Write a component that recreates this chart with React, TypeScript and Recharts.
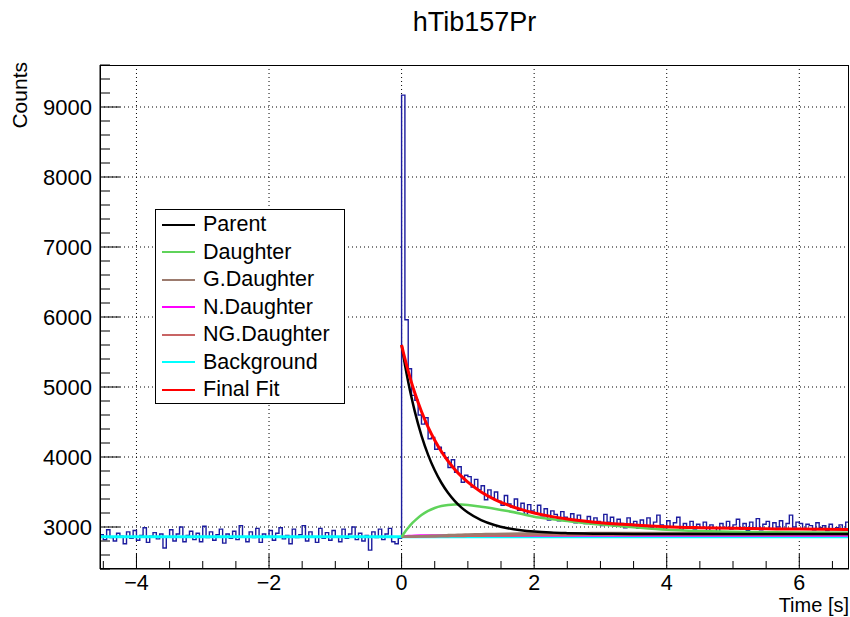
import { ComposedChart, Line, XAxis, YAxis, CartesianGrid, Legend } from 'recharts'

const FONT = '"Liberation Sans", Arial, Helvetica, sans-serif'
const W = 850
const H = 617
const PLOT_LEFT = 100
const PLOT_TOP = 65
const PLOT_RIGHT = 849
const PLOT_BOTTOM = 569

const X_DOMAIN = [-4.55, 6.75]
const Y_DOMAIN = [2400, 9600]
const X_TICKS = [-4.5, -4, -3.5, -3, -2.5, -2, -1.5, -1, -0.5, 0, 0.5, 1, 1.5, 2, 2.5, 3, 3.5, 4, 4.5, 5, 5.5, 6, 6.5]
const Y_TICKS = [2400, 2600, 2800, 3000, 3200, 3400, 3600, 3800, 4000, 4200, 4400, 4600, 4800, 5000, 5200, 5400, 5600, 5800, 6000, 6200, 6400, 6600, 6800, 7000, 7200, 7400, 7600, 7800, 8000, 8200, 8400, 8600, 8800, 9000, 9200, 9400, 9600]
const X_GRID = [-4, -2, 0, 2, 4, 6]
const Y_GRID = [3000, 4000, 5000, 6000, 7000, 8000, 9000]

// histogram: 0.05 s bins starting at -4.55 s
const HIST_START = -4.55
const BIN_W = 0.05
const HIST_NEG = [
  2890, 2820, 2960, 2850, 2800, 2910, 2870, 2760, 2930, 2840,
  2950, 2810, 2880, 2990, 2780, 2870, 2920, 2830, 2900, 2700,
  2860, 2960, 2800, 2900, 3000, 2790, 2880, 2940, 2820, 2910,
  2790, 3010, 2850, 2930, 2810, 2890, 2970, 2770, 2900, 2840,
  2940, 2820, 3020, 2860, 2790, 2930, 2850, 2980, 2780, 2900,
  2860, 2950, 2810, 2910, 2990, 2830, 2880, 2760, 2970, 2850,
  2890, 3020, 2800, 2930, 2860, 2780, 2980, 2840, 2920, 2810,
  2950, 2860, 2790, 2970, 2840, 2900, 3000, 2820, 2910, 2800,
  2880, 2670, 2930, 2850, 2970, 2820, 2900, 2980, 2790, 2760,
  2840,
]
const HIST_POS = [
  9170, 5960, 5260, 4880, 4810, 4600, 4470, 4560, 4260, 4280,
  4110, 4140, 4060, 3990, 3850, 3960, 3780, 3860, 3640, 3740,
  3720, 3570, 3680, 3530, 3590, 3390, 3530, 3420, 3500, 3370,
  3310, 3450, 3330, 3280, 3400, 3240, 3340, 3180, 3320, 3230,
  3200, 3310, 3160, 3260, 3100, 3230, 3180, 3090, 3220, 3140,
  3080, 3190, 3060, 3170, 3090, 3050, 3150, 3040, 3130, 3080,
  3020, 3180, 3070, 3140, 3010, 3110, 3050, 2990, 3130, 3040,
  3080, 2980, 3100, 3020, 3130, 2990, 3070, 3170, 3030, 2970,
  3090, 3000, 3060, 3140, 2960, 3050, 2990, 3080, 2970, 3040,
  2990, 3070, 2890, 3030, 2990, 2900, 3050, 2990, 3080, 2970,
  3030, 3110, 2970, 3050, 2950, 3070, 2990, 3120, 2960, 3040,
  3080, 2970, 3060, 3000, 3090, 2970, 3050, 3170, 3000, 3070,
  3050, 2970, 3040, 3020, 2960, 3060, 2990, 3020, 2950, 3040,
  2970, 2990, 3030, 2960, 3070,
]

// fit components, sampled along the decay
const CURVE_T = [0, 0.05, 0.1, 0.15, 0.2, 0.3, 0.4, 0.5, 0.6, 0.7, 0.8, 0.9, 1.0, 1.2, 1.4, 1.6, 1.8, 2.0, 2.25, 2.5, 2.75, 3.0, 3.5, 4.0, 4.5, 5.0, 5.5, 6.0, 6.75]
const PARENT = [5600, 5322, 5073, 4849, 4648, 4306, 4031, 3810, 3632, 3489, 3374, 3281, 3207, 3099, 3029, 2983, 2954, 2935, 2920, 2912, 2907, 2904, 2901, 2900, 2900, 2900, 2900, 2900, 2900]
const DAUGHTER = [2860, 2930, 2990, 3045, 3090, 3170, 3230, 3272, 3300, 3315, 3320, 3320, 3315, 3290, 3262, 3228, 3188, 3145, 3113, 3085, 3058, 3035, 2995, 2960, 2942, 2932, 2926, 2922, 2918]
const G_DAUGHTER = [2860, 2861, 2862, 2863, 2865, 2868, 2872, 2876, 2880, 2884, 2887, 2890, 2893, 2897, 2901, 2904, 2906, 2908, 2910, 2911, 2912, 2913, 2914, 2914, 2914, 2914, 2914, 2914, 2914]
const N_DAUGHTER = [2860, 2866, 2870, 2873, 2875, 2877, 2878, 2878, 2878, 2878, 2878, 2878, 2878, 2878, 2878, 2878, 2878, 2878, 2878, 2878, 2878, 2878, 2878, 2878, 2878, 2878, 2878, 2878, 2878]
const NG_DAUGHTER = [2860, 2861, 2861, 2862, 2862, 2864, 2865, 2866, 2868, 2869, 2871, 2872, 2874, 2876, 2878, 2880, 2882, 2885, 2886, 2887, 2889, 2890, 2891, 2893, 2893, 2894, 2894, 2895, 2895]
const FINAL_FIT = [5600, 5405, 5227, 5063, 4913, 4650, 4427, 4239, 4079, 3943, 3826, 3726, 3640, 3501, 3396, 3315, 3251, 3201, 3152, 3115, 3086, 3062, 3029, 3005, 2991, 2981, 2974, 2970, 2965]
const BG_T = [-4.55, 6.75]
const BACKGROUND = [2860, 2860]

const SERIES_NAMES = ['Parent', 'Daughter', 'G.Daughter', 'N.Daughter', 'NG.Daughter', 'Background', 'Final Fit']
const COLORS: Record<string, string> = {
  'Parent': '#000000',
  'Daughter': '#5fd35a',
  'G.Daughter': '#9c7b6e',
  'N.Daughter': '#ff00ff',
  'NG.Daughter': '#c86464',
  'Background': '#00ffff',
  'Final Fit': '#ff0000',
}

const histData = [...HIST_NEG, ...HIST_POS].map((v, i) => ({ t: Math.round((HIST_START + i * BIN_W) * 1000) / 1000, v }))
histData.push({ t: X_DOMAIN[1], v: HIST_POS[HIST_POS.length - 1] })

const toCurve = (vals: number[], ts: number[] = CURVE_T) => vals.map((v, i) => ({ t: ts[i], v }))

function fmtX(v: number) {
  return v < 0 ? `\u2212${Math.abs(v)}` : `${v}`
}

function XTick({ x, payload }: any) {
  const major = payload.value % 2 === 0
  return (
    <g>
      <line x1={x} x2={x} y1={PLOT_BOTTOM} y2={PLOT_BOTTOM - (major ? 15 : 8)} stroke="#000" />
      {major && (
        <text x={x} y={583} textAnchor="middle" dominantBaseline="central" fontFamily={FONT} fontSize={21.5} fill="#000">
          {fmtX(payload.value)}
        </text>
      )}
    </g>
  )
}

function YTick({ y, payload }: any) {
  const major = payload.value % 1000 === 0
  return (
    <g>
      <line x1={PLOT_LEFT} x2={PLOT_LEFT + (major ? 20 : 10)} y1={y} y2={y} stroke="#000" />
      {major && (
        <text x={PLOT_LEFT - 8} y={y} textAnchor="end" dominantBaseline="central" fontFamily={FONT} fontSize={22} fill="#000">
          {payload.value}
        </text>
      )}
    </g>
  )
}

function LegendBox() {
  return (
    <div style={{ width: 190, height: 195, border: '1px solid #000', background: '#fff', boxSizing: 'border-box', paddingTop: 1 }}>
      {SERIES_NAMES.map((name) => (
        <div key={name} style={{ height: 27.5, display: 'flex', alignItems: 'center' }}>
          <span style={{ display: 'inline-block', width: 33, height: 2, marginLeft: 6, background: COLORS[name] }} />
          <span style={{ marginLeft: 8, fontFamily: FONT, fontSize: 21.5, color: '#000', lineHeight: '27px' }}>{name}</span>
        </div>
      ))}
    </div>
  )
}

export default function App() {
  return (
    <div style={{ position: 'absolute', left: 0, top: 0, width: W, height: H, background: '#fff' }}>
      <div style={{ position: 'absolute', left: PLOT_LEFT, width: PLOT_RIGHT - PLOT_LEFT, top: 7, textAlign: 'center', fontFamily: FONT, fontSize: 27, lineHeight: '30px', color: '#000' }}>
        hTib157Pr
      </div>
      <ComposedChart width={W} height={H} margin={{ top: PLOT_TOP, right: W - PLOT_RIGHT, bottom: 0, left: 0 }}>
        <CartesianGrid stroke="#000" strokeDasharray="1 3" verticalValues={X_GRID} horizontalValues={Y_GRID} />
        <XAxis
          type="number"
          dataKey="t"
          domain={X_DOMAIN}
          allowDataOverflow
          ticks={X_TICKS}
          interval={0}
          height={H - PLOT_BOTTOM}
          tickLine={false}
          stroke="#000"
          tick={<XTick />}
          label={{
            content: () => (
              <text x={PLOT_RIGHT} y={605} textAnchor="end" dominantBaseline="central" fontFamily={FONT} fontSize={20} fill="#000">
                Time [s]
              </text>
            ),
          }}
        />
        <YAxis
          type="number"
          domain={Y_DOMAIN}
          allowDataOverflow
          ticks={Y_TICKS}
          interval={0}
          width={PLOT_LEFT}
          tickLine={false}
          stroke="#000"
          tick={<YTick />}
          label={{
            content: () => (
              <text x={19} y={62} transform="rotate(-90 19 62)" textAnchor="end" dominantBaseline="central" fontFamily={FONT} fontSize={21} fill="#000">
                Counts
              </text>
            ),
          }}
        />
        <Legend layout="vertical" align="center" verticalAlign="middle" content={<LegendBox />} wrapperStyle={{ left: 155, top: 209, width: 190, height: 195 }} />
        <Line data={histData} dataKey="v" type="stepAfter" stroke="#1c1c9e" strokeWidth={1.4} dot={false} activeDot={false} isAnimationActive={false} legendType="none" />
        <Line data={toCurve(BACKGROUND, BG_T)} dataKey="v" name="Background" type="linear" stroke={COLORS['Background']} strokeWidth={3} dot={false} activeDot={false} isAnimationActive={false} />
        <Line data={toCurve(N_DAUGHTER)} dataKey="v" name="N.Daughter" type="monotone" stroke={COLORS['N.Daughter']} strokeWidth={2.5} dot={false} activeDot={false} isAnimationActive={false} />
        <Line data={toCurve(NG_DAUGHTER)} dataKey="v" name="NG.Daughter" type="monotone" stroke={COLORS['NG.Daughter']} strokeWidth={2.5} dot={false} activeDot={false} isAnimationActive={false} />
        <Line data={toCurve(G_DAUGHTER)} dataKey="v" name="G.Daughter" type="monotone" stroke={COLORS['G.Daughter']} strokeWidth={2.5} dot={false} activeDot={false} isAnimationActive={false} />
        <Line data={toCurve(DAUGHTER)} dataKey="v" name="Daughter" type="monotone" stroke={COLORS['Daughter']} strokeWidth={2.5} dot={false} activeDot={false} isAnimationActive={false} />
        <Line data={toCurve(PARENT)} dataKey="v" name="Parent" type="monotone" stroke={COLORS['Parent']} strokeWidth={2.5} dot={false} activeDot={false} isAnimationActive={false} />
        <Line data={toCurve(FINAL_FIT)} dataKey="v" name="Final Fit" type="monotone" stroke={COLORS['Final Fit']} strokeWidth={3} dot={false} activeDot={false} isAnimationActive={false} />
      </ComposedChart>
      <div style={{ position: 'absolute', left: PLOT_LEFT, top: PLOT_TOP, width: PLOT_RIGHT - PLOT_LEFT, height: PLOT_BOTTOM - PLOT_TOP, border: '1px solid #000', boxSizing: 'border-box', pointerEvents: 'none' }} />
    </div>
  )
}
